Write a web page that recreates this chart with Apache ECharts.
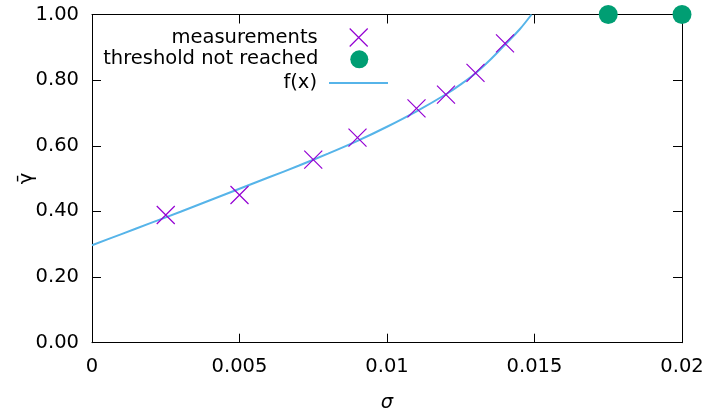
<!DOCTYPE html>
<html>
<head>
<meta charset="utf-8">
<script src="https://cdn.jsdelivr.net/npm/echarts@6/dist/echarts.min.js"></script>
<style>
html,body{margin:0;padding:0;background:#fff;}
#chart{width:706px;height:415px;}
</style>
</head>
<body>
<div id="chart"></div>
<script>
// measurements (sigma, gamma-bar)
var measX = [0.0025, 0.005, 0.0075, 0.009, 0.011, 0.012, 0.013, 0.014];
var measY = [0.389, 0.450, 0.558, 0.625, 0.714, 0.756, 0.822, 0.912];
// threshold not reached
var thrX = [0.0175, 0.02];
var thrY = [1.0, 1.0];
// f(x) curve
var fitX = [0, 0.001, 0.002, 0.003, 0.004, 0.005, 0.006, 0.007, 0.008, 0.009, 0.010, 0.011, 0.012, 0.0125, 0.013, 0.0135, 0.014, 0.0145, 0.0149];
var fitY = [0.297, 0.331, 0.365, 0.399, 0.434, 0.469, 0.504, 0.539, 0.576, 0.615, 0.658, 0.705, 0.757, 0.787, 0.821, 0.862, 0.908, 0.955, 1.0];
var xTicks = [0, 0.005, 0.01, 0.015, 0.02];
var yTicks = [0, 0.2, 0.4, 0.6, 0.8, 1.0];

function zip(a, b) { return a.map(function (v, i) { return [v, b[i]]; }); }

var FONT = 'DejaVu Sans';
var FS = 19.5;
var crossPath = 'path://M0,0L10,10M10,0L0,10';

var chart = echarts.init(document.getElementById('chart'), null, {renderer: 'canvas'});

function legendAt(item, top, right, width, padRight) {
  return {
    data: [item],
    orient: 'vertical',
    right: right,
    top: top,
    padding: 0,
    align: 'right',
    itemWidth: width,
    itemHeight: 18,
    selectedMode: false,
    textStyle: {fontFamily: FONT, fontSize: FS, color: '#000', lineHeight: 18, padding: [0, padRight, 0, 0]}
  };
}

var axisCommonX = {
  type: 'value', min: xTicks[0], max: xTicks[xTicks.length - 1], interval: xTicks[1] - xTicks[0],
  splitLine: {show: false},
  axisLine: {show: true, onZero: false, lineStyle: {color: '#000', width: 1}},
  axisTick: {show: true, inside: true, length: 9, lineStyle: {color: '#000', width: 1}}
};
var axisCommonY = {
  type: 'value', min: yTicks[0], max: yTicks[yTicks.length - 1], interval: yTicks[1] - yTicks[0],
  splitLine: {show: false},
  axisLine: {show: true, onZero: false, lineStyle: {color: '#000', width: 1}},
  axisTick: {show: true, inside: true, length: 9, lineStyle: {color: '#000', width: 1}}
};

var option = {
  animation: false,
  backgroundColor: '#fff',
  grid: {left: 92, right: 24, top: 14.5, bottom: 72.3, containLabel: false, outerBoundsMode: 'none'},
  legend: [
    legendAt({name: 'measurements', itemStyle: {borderWidth: 1.2, borderColor: '#9400d3', color: 'rgba(0,0,0,0)'}}, 27.5, 337.7, 18, 27),
    legendAt('threshold not reached', 49.3, 337.7, 18, 27),
    legendAt({name: 'f(x)', itemStyle: {opacity: 0}}, 73, 317, 59, 7)
  ],
  xAxis: [
    Object.assign({}, axisCommonX, {
      position: 'bottom',
      name: 'σ', nameLocation: 'middle', nameGap: 50, nameMoveOverlap: false,
      nameTextStyle: {fontFamily: FONT, fontSize: FS, fontStyle: 'italic', color: '#000'},
      axisLabel: {show: true, margin: 14, fontFamily: FONT, fontSize: FS, color: '#000',
        formatter: function (v) { return String(+v.toFixed(4)); }}
    }),
    Object.assign({}, axisCommonX, {position: 'top', axisLabel: {show: false}})
  ],
  yAxis: [
    Object.assign({}, axisCommonY, {
      position: 'left',
      name: 'γ̄', nameLocation: 'middle', nameGap: 55, nameRotate: 90, nameMoveOverlap: false,
      nameTextStyle: {fontFamily: FONT, fontSize: FS, color: '#000'},
      axisLabel: {show: true, margin: 13, fontFamily: FONT, fontSize: FS, color: '#000',
        formatter: function (v) { return v.toFixed(2); }}
    }),
    Object.assign({}, axisCommonY, {position: 'right', axisLabel: {show: false}})
  ],
  series: [
    {
      name: 'f(x)', type: 'line', xAxisIndex: 0, yAxisIndex: 0,
      data: zip(fitX, fitY), smooth: 0.3, showSymbol: false, symbol: 'none',
      lineStyle: {color: '#56b4e9', width: 2}, itemStyle: {color: '#56b4e9'},
      z: 2
    },
    {
      name: 'measurements', type: 'scatter', xAxisIndex: 0, yAxisIndex: 0,
      data: zip(measX, measY), symbol: crossPath, symbolSize: 18, clip: false,
      itemStyle: {color: 'rgba(0,0,0,0)', borderColor: '#9400d3', borderWidth: 1.2, opacity: 1},
      z: 3
    },
    {
      name: 'threshold not reached', type: 'scatter', xAxisIndex: 0, yAxisIndex: 0,
      data: zip(thrX, thrY), symbol: 'circle', symbolSize: 19, clip: false,
      itemStyle: {color: '#009e73', opacity: 1},
      z: 4
    }
  ]
};
chart.setOption(option);
</script>
</body>
</html>
